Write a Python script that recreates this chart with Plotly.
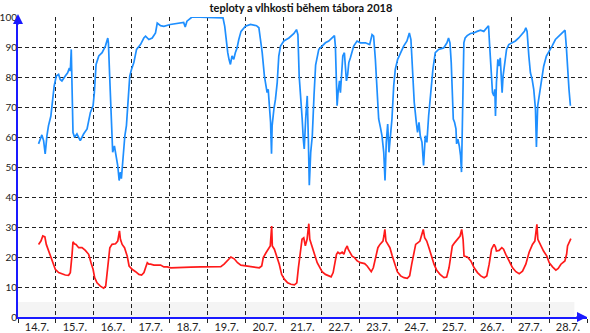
import pandas as pd
import plotly.graph_objects as go

TITLE = "teploty a vlhkosti během tábora 2018"
START = "2018-07-14 00:00"

# humidity (%) - hours since 14.7. 00:00 and values
HUM_H = [13.0, 15.1, 16.2, 17.2, 18.3, 19.3, 20.8, 22.1, 22.9, 24.2, 25.7, 26.7, 27.8, 29.9, 31.4, 32.5, 33.1, 33.7, 34.4, 34.8,
         35.8, 37.3, 39.4, 41.5, 43.7, 45.8, 47.5, 48.3, 49.4, 51.1, 53.2, 55.3, 56.8, 57.2, 58.0, 59.1, 59.9, 61.0, 62.3, 63.1,
         64.0, 64.8, 65.4, 66.5, 67.6, 68.6, 69.7, 70.7, 71.8, 73.3, 75.0, 77.5, 79.6, 80.7, 82.8, 84.9, 87.0, 88.1, 90.2, 92.3,
         96.3, 100.5, 104.8, 105.8, 106.9, 110.1, 117.5, 123.8, 129.7, 130.8, 131.8, 132.7, 133.5, 134.4, 135.4, 136.5, 137.5,
         138.6, 139.7, 141.1, 143.9, 147.1, 150.9, 152.4, 153.4, 154.5, 155.9, 157.0, 157.6, 158.3, 159.1, 159.8, 160.4, 160.8,
         161.9, 162.9, 164.0, 165.0, 166.1, 168.2, 171.4, 174.6, 176.2, 177.1, 177.9, 178.8, 179.8, 180.5, 181.1, 182.0, 182.6,
         183.0, 183.7, 184.3, 185.2, 186.2, 187.3, 188.3, 190.3, 192.4, 194.5, 196.6, 198.7, 200.2, 200.8, 201.5, 201.9, 202.5,
         203.4, 204.0, 204.6, 205.5, 206.5, 207.2, 207.8, 208.6, 209.3, 210.3, 212.4, 214.5, 216.6, 219.8, 222.5, 224.0, 225.0,
         226.1, 227.2, 228.2, 229.3, 230.3, 231.4, 232.2, 233.0, 233.9, 234.7, 235.6, 236.6, 237.7, 238.7, 240.2, 241.9, 244.0,
         246.1, 247.6, 248.6, 249.7, 250.7, 252.0, 252.8, 253.7, 254.5, 255.6, 256.6, 257.7, 258.7, 259.8, 260.8, 262.5, 264.0,
         266.1, 269.3, 271.4, 272.4, 273.3, 274.1, 274.9, 275.4, 276.2, 277.1, 277.5, 278.3, 279.2, 280.0, 280.6, 281.3, 281.7,
         282.1, 282.9, 284.2, 286.3, 288.4, 290.5, 292.6, 294.7, 296.8, 297.7, 298.3, 299.4, 300.2, 301.1, 301.7, 302.1, 302.7,
         303.6, 304.2, 305.1, 305.7, 306.3, 306.9, 307.8, 309.1, 310.5, 312.6, 314.7, 316.8, 318.9, 320.4, 321.3, 322.1, 323.2,
         324.2, 325.3, 326.3, 327.4, 328.0, 328.8, 329.7, 330.5, 331.6, 332.6, 334.3, 335.8, 337.9, 340.0, 342.1, 344.2, 346.1,
         346.9, 347.8, 348.6, 349.5]
HUM_V = [57.7, 60.7, 58.8, 54.4, 60.4, 63.8, 67.0, 73.7, 77.0, 80.3, 80.9, 79.2, 78.7, 80.3, 81.4, 83.0, 82.0, 89.2, 74.8, 61.5,
         59.9, 61.0, 58.8, 61.0, 62.7, 68.2, 70.4, 74.8, 84.2, 87.0, 88.1, 90.3, 93.0, 91.4, 80.3, 66.0, 54.9, 57.0, 52.7, 50.5,
         45.5, 48.3, 46.1, 54.9, 60.4, 63.8, 71.5, 80.3, 82.5, 84.8, 89.2, 90.8, 93.0, 93.6, 92.5, 93.0, 94.7, 98.0, 97.1, 96.9,
         97.5, 97.8, 98.2, 96.7, 98.6, 100.0, 99.8, 99.7, 99.7, 96.9, 91.4, 88.1, 85.9, 84.2, 87.0, 85.9, 88.1,
         89.7, 92.5, 95.2, 96.9, 97.5, 97.1, 96.4, 92.5, 88.1, 80.3, 77.0, 74.8, 75.9, 69.3, 64.9, 54.4, 63.8,
         69.3, 72.6, 78.1, 87.0, 90.3, 92.0, 93.0, 94.5, 95.8, 94.1, 80.3, 74.8, 66.0, 59.3, 56.0, 66.0, 69.3,
         73.7, 59.3, 43.9, 54.9, 60.4, 74.0, 84.0, 89.2, 90.3, 91.4, 92.0, 93.0, 93.8, 90.3, 80.3, 70.4, 74.8,
         78.7, 74.8, 80.3, 87.0, 88.1, 82.5, 78.7, 80.9, 84.8, 86.4, 90.3, 92.0, 91.4, 91.4, 90.8, 94.1, 93.6,
         85.9, 72.6, 66.0, 63.2, 60.4, 54.9, 45.5, 58.2, 64.3, 54.9, 60.4, 66.0, 77.0, 82.5, 85.9, 88.1, 90.3,
         92.0, 94.7, 92.5, 80.3, 71.5, 64.9, 61.5, 64.9, 60.4, 58.2, 50.5, 60.4, 58.2, 67.0, 73.7, 82.5, 88.1,
         89.2, 89.7, 91.4, 93.0, 91.4, 84.8, 74.8, 66.0, 64.9, 62.7, 57.7, 59.3, 57.0, 53.8, 48.3, 63.8, 80.3,
         91.4, 93.0, 93.8, 94.5, 94.7, 95.2, 95.6, 95.2, 96.4, 97.1, 91.4, 83.6, 74.8, 73.7, 75.9, 67.0, 78.1,
         85.9, 83.6, 86.4, 80.3, 74.8, 80.3, 84.8, 89.2, 90.8, 91.4, 92.0, 93.0, 94.1, 95.2, 96.4, 95.2, 87.0,
         81.4, 79.2, 75.9, 69.3, 56.7, 70.4, 73.7, 77.0, 80.3, 83.6, 87.0, 88.6, 90.3, 92.5, 93.6, 94.5, 95.6,
         90.3, 80.3, 75.9, 70.4]

# temperature (°C)
TEMP_H = [13.0, 14.5, 15.7, 17.0, 17.9, 19.3, 20.8, 22.1, 23.6, 25.7, 27.8, 29.9, 32.0, 33.1, 34.2, 34.8, 35.6, 36.7, 38.4, 40.5,
          42.6, 44.7, 46.2, 47.5, 48.5, 50.0, 52.1, 54.2, 55.5, 56.8, 58.1, 59.5, 61.7, 63.1, 64.2, 64.8, 65.9, 67.4, 69.1, 70.3,
          72.2, 74.4, 76.5, 78.2, 79.7, 80.7, 81.8, 82.8, 83.9, 86.0, 88.1, 90.2, 92.3, 94.5, 96.6, 102.9, 109.3, 115.6, 122.0,
          128.3, 130.4, 132.6, 134.7, 136.8, 138.9, 141.0, 144.2, 147.4, 150.5, 152.7, 154.2, 155.2, 156.9, 158.4, 159.6, 160.5,
          160.9, 162.2, 163.8, 165.3, 166.8, 168.5, 170.6, 172.7, 174.9, 176.4, 177.4, 178.7, 179.7, 180.8, 181.8, 182.9, 184.0,
          184.6, 186.1, 187.6, 189.3, 190.9, 192.4, 194.5, 196.6, 198.1, 199.4, 200.5, 201.5, 202.4, 203.6, 205.1, 206.2, 207.2,
          208.3, 208.9, 210.0, 211.4, 212.9, 214.6, 216.7, 219.3, 220.9, 222.4, 223.5, 224.8, 226.2, 227.7, 229.0, 229.8, 230.9,
          231.5, 232.1, 232.8, 234.0, 235.3, 236.8, 238.3, 240.0, 242.1, 244.2, 246.3, 247.8, 249.1, 250.6, 251.6, 253.1, 254.3,
          255.2, 256.4, 257.3, 258.6, 260.0, 261.5, 263.2, 264.9, 267.0, 269.5, 271.2, 272.7, 273.8, 274.8, 276.3, 278.0, 279.7,
          280.7, 281.6, 282.2, 284.3, 286.5, 288.6, 290.7, 292.8, 294.9, 296.6, 298.1, 299.6, 301.2, 302.1, 302.7, 304.4, 306.1,
          307.2, 308.6, 310.8, 312.9, 315.0, 317.1, 319.2, 321.3, 323.4, 325.5, 327.0, 328.3, 328.9, 330.4, 332.5, 334.6, 336.1,
          338.2, 340.3, 341.8, 343.5, 346.0, 347.1, 347.7, 348.8, 349.8]
TEMP_V = [24.2, 25.3, 27.0, 26.7, 24.2, 22.0, 20.3, 17.6, 15.9, 14.8, 14.4, 14.0, 13.9, 14.8, 20.9, 25.1, 24.4, 24.2, 23.1, 23.1,
          22.2, 20.9, 18.1, 15.9, 13.1, 11.4, 10.3, 9.6, 10.3, 17.6, 23.1, 24.2, 24.4, 25.3, 28.7, 25.9, 24.2, 23.1, 20.3, 17.0,
          15.9, 15.1, 14.2, 14.0, 14.8, 16.4, 18.1, 17.6, 17.6, 17.3, 17.2, 17.3, 16.7, 16.7, 16.4, 16.4, 16.6, 16.7, 16.7,
          16.8, 17.6, 19.0, 20.0, 19.4, 18.1, 17.3, 17.0, 16.7, 16.4, 16.4, 17.0, 19.8, 21.4, 22.6, 23.7, 30.3,
          23.7, 22.6, 20.3, 17.6, 14.2, 12.6, 11.4, 10.9, 10.7, 11.4, 16.4, 23.1, 25.9, 26.4, 23.7, 25.9, 31.1,
          25.9, 23.1, 20.9, 18.1, 16.4, 15.1, 14.2, 13.7, 13.4, 14.8, 17.6, 20.9, 21.6, 21.1, 21.6, 20.9, 22.6,
          23.7, 22.6, 21.6, 20.3, 19.8, 18.7, 18.1, 17.8, 17.0, 15.9, 15.1, 16.4, 19.8, 23.1, 24.2, 24.8, 25.3,
          27.0, 29.2, 25.3, 24.2, 23.1, 20.3, 17.6, 15.1, 13.7, 13.1, 12.9, 13.7, 17.6, 22.0, 24.2, 24.8, 25.3,
          27.0, 29.2, 26.4, 25.3, 23.1, 20.3, 17.6, 15.6, 14.2, 13.1, 13.3, 16.4, 20.9, 23.7, 24.8, 25.9, 27.0,
          29.2, 25.9, 20.3, 20.0, 18.7, 16.4, 14.8, 13.7, 13.1, 13.7, 17.6, 22.6, 24.2, 23.3, 22.0, 22.2, 23.1,
          22.6, 20.9, 18.7, 16.4, 15.1, 14.4, 15.3, 17.6, 21.6, 24.2, 25.3, 30.9, 25.9, 24.2, 22.0, 20.3, 18.1,
          16.7, 15.6, 16.2, 17.6, 18.7, 20.9, 23.7, 25.3, 26.1]

Y_TICKS = list(range(0, 101, 10))

t0 = pd.Timestamp(START)
hum_x = t0 + pd.to_timedelta(HUM_H, unit="h")
temp_x = t0 + pd.to_timedelta(TEMP_H, unit="h")
x_range = [t0, t0 + pd.Timedelta(days=15)]

FONT = "Lato, 'Open Sans', sans-serif"
AXIS_BLUE = "#1a1aff"

fig = go.Figure()
fig.add_trace(go.Scatter(x=hum_x, y=HUM_V, mode="lines", name="vlhkost",
                         line=dict(color="#1e8fff", width=1.7)))
fig.add_trace(go.Scatter(x=temp_x, y=TEMP_V, mode="lines", name="teplota",
                         line=dict(color="#ff1a1a", width=1.7)))

# faint band at the bottom of the plot
fig.add_shape(type="rect", xref="x", yref="y", layer="below",
              x0=t0, x1=t0 + pd.Timedelta(hours=352), y0=0, y1=5,
              fillcolor="#f4f4f4", line=dict(width=0))

fig.update_layout(
    width=590, height=333,
    margin=dict(l=18, r=3, t=17, b=16, autoexpand=False),
    paper_bgcolor="white", plot_bgcolor="white",
    showlegend=False,
    font=dict(family=FONT, size=11, color="#222"),
    title=dict(text="<b>" + TITLE + "</b>", x=0.51, xanchor="center", y=0.988, yanchor="top",
               font=dict(family=FONT, size=11, color="#111")),
    # overlay axis carrying only the small blue ticks under the day labels
    xaxis2=dict(overlaying="x", anchor="y", side="bottom", type="date", range=x_range,
                tick0=t0 + pd.Timedelta(hours=12), dtick=86400000, showticklabels=False,
                showgrid=False, zeroline=False, showline=False, automargin=False,
                ticks="outside", ticklen=3, tickcolor=AXIS_BLUE, tickwidth=1),
)
fig.layout.xaxis.update(
    type="date", automargin=False,
    range=x_range,
    tick0=t0 + pd.Timedelta(hours=12), dtick=86400000,
    tickformat="%-d.%-m.",
    showgrid=False, ticks="",
    ticklabelstandoff=-1,
    tickfont=dict(family=FONT, size=11, color="#222"),
    showline=True, linecolor=AXIS_BLUE, linewidth=2,
    zeroline=False,
    minor=dict(tick0=t0, dtick=86400000, showgrid=True, gridcolor="#222", gridwidth=1.3,
               griddash="4px,3px", ticks="outside", ticklen=4, tickcolor="#222"),
)
fig.update_yaxes(
    range=[0, 100], tickvals=Y_TICKS, automargin=False,
    showgrid=True, gridcolor="#222", gridwidth=1.3, griddash="4px,3px",
    ticks="", ticklabelstandoff=-3,
    tickfont=dict(family=FONT, size=10, color="#222"),
    showline=True, linecolor=AXIS_BLUE, linewidth=2,
    zeroline=False,
)
# arrow heads on the axes
fig.add_annotation(xref="paper", yref="paper", x=0, y=1.01, ax=0, ay=12, axref="pixel", ayref="pixel",
                   showarrow=True, arrowhead=2, arrowsize=1, arrowwidth=2, arrowcolor=AXIS_BLUE, text="")
fig.add_annotation(xref="paper", yref="paper", x=1.0, y=0, ax=-12, ay=0, axref="pixel", ayref="pixel",
                   showarrow=True, arrowhead=2, arrowsize=1, arrowwidth=2, arrowcolor=AXIS_BLUE, text="")

# remove the browser's default 8px page margin so the chart sits at the window origin
fig.write_html("out.html", config={"displayModeBar": False},
               post_script="document.body.style.margin='0px';document.body.style.overflow='hidden';")
